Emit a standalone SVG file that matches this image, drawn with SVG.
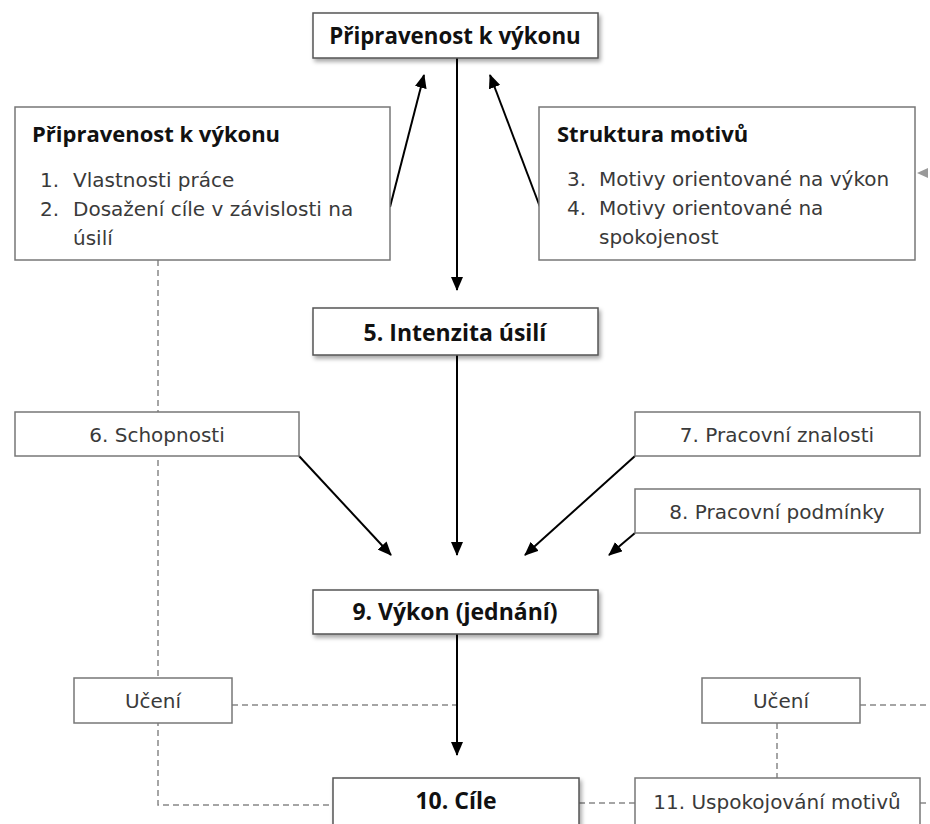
<svg xmlns="http://www.w3.org/2000/svg" width="930" height="824" viewBox="0 0 930 824">
<style>
.box{fill:#fff;stroke:#777;stroke-width:1.5}
.bbox{fill:#fff;stroke:#555;stroke-width:1.5;filter:url(#sh)}
.reg{font-family:"DejaVu Sans","Open Sans",sans-serif;font-size:20px;fill:#3a3a3a}
.bold{font-family:"Open Sans","Noto Sans",sans-serif;font-size:23px;font-weight:bold;fill:#111}
.title{font-family:"Open Sans","Noto Sans",sans-serif;font-size:22px;font-weight:bold;fill:#111}
.arr{stroke:#000;stroke-width:2;fill:none;marker-end:url(#ah)}
.dash{stroke:#888;stroke-width:1.5;fill:none;stroke-dasharray:6 4}
</style>
<defs>
<filter id="sh" x="-10%" y="-20%" width="125%" height="160%">
<feDropShadow dx="2" dy="3" stdDeviation="2" flood-color="#000" flood-opacity="0.35"/>
</filter>
<marker id="ah" markerUnits="userSpaceOnUse" markerWidth="14" markerHeight="12" refX="13" refY="6" orient="auto">
<path d="M0,0 L14,6 L0,12 z" fill="#000"/>
</marker>
</defs>
<g id="connectors">
<path class="dash" d="M158,260 V805 H333"/>
<path class="dash" d="M232,705 H457"/>
<path class="dash" d="M860,705 H930"/>
<path class="dash" d="M777,723 V778"/>
<path class="dash" d="M579,803 H635"/>
<path class="dash" d="M920,803 H930"/>
<line class="arr" x1="457" y1="58" x2="457" y2="290"/>
<line class="arr" x1="390" y1="207" x2="424" y2="75"/>
<line class="arr" x1="540" y1="207" x2="490" y2="75"/>
<line class="arr" x1="457" y1="355" x2="457" y2="555"/>
<line class="arr" x1="299" y1="456" x2="391" y2="555"/>
<line class="arr" x1="635" y1="456" x2="525" y2="555"/>
<line class="arr" x1="635" y1="533" x2="609" y2="555"/>
<line class="arr" x1="457" y1="634" x2="457" y2="755"/>
<polygon points="917,173 928,168 928,178" fill="#999"/>
</g>
<g id="n-top">
<rect class="bbox" x="313" y="13" width="285" height="45"/>
<text class="bold" x="455" y="44" text-anchor="middle" style="font-size:22.3px">Připravenost k výkonu</text>
</g>
<g id="n-left">
<rect class="box" x="15" y="107" width="375" height="153"/>
<text class="title" x="32" y="142">Připravenost k výkonu</text>
<text class="reg" x="40" y="187">1.</text>
<text class="reg" x="73" y="187">Vlastnosti práce</text>
<text class="reg" x="40" y="216">2.</text>
<text class="reg" x="73" y="216">Dosažení cíle v závislosti na</text>
<text class="reg" x="73" y="245">úsilí</text>
</g>
<g id="n-right">
<rect class="box" x="539" y="107" width="376" height="153"/>
<text class="title" x="557" y="142">Struktura motivů</text>
<text class="reg" x="567" y="186">3.</text>
<text class="reg" x="599" y="186">Motivy orientované na výkon</text>
<text class="reg" x="567" y="215">4.</text>
<text class="reg" x="599" y="215">Motivy orientované na</text>
<text class="reg" x="599" y="244">spokojenost</text>
</g>
<g id="n5">
<rect class="bbox" x="313" y="308" width="285" height="47"/>
<text class="bold" x="455" y="341" text-anchor="middle">5. Intenzita úsilí</text>
</g>
<g id="n6">
<rect class="box" x="15" y="412" width="284" height="44"/>
<text class="reg" x="157" y="442" text-anchor="middle">6. Schopnosti</text>
</g>
<g id="n7">
<rect class="box" x="635" y="412" width="285" height="44"/>
<text class="reg" x="777" y="442" text-anchor="middle">7. Pracovní znalosti</text>
</g>
<g id="n8">
<rect class="box" x="635" y="489" width="285" height="44"/>
<text class="reg" x="777" y="519" text-anchor="middle">8. Pracovní podmínky</text>
</g>
<g id="n9">
<rect class="bbox" x="313" y="590" width="285" height="44"/>
<text class="bold" x="455" y="620" text-anchor="middle">9. Výkon (jednání)</text>
</g>
<g id="n-uceni1">
<rect class="box" x="74" y="678" width="158" height="45"/>
<text class="reg" x="153" y="708" text-anchor="middle">Učení</text>
</g>
<g id="n-uceni2">
<rect class="box" x="702" y="678" width="158" height="45"/>
<text class="reg" x="781" y="708" text-anchor="middle">Učení</text>
</g>
<g id="n10">
<rect class="bbox" x="333" y="778" width="246" height="60"/>
<text class="bold" x="456" y="809" text-anchor="middle">10. Cíle</text>
</g>
<g id="n11">
<rect class="box" x="635" y="778" width="285" height="60"/>
<text class="reg" x="777" y="809" text-anchor="middle">11. Uspokojování motivů</text>
</g>
</svg>
